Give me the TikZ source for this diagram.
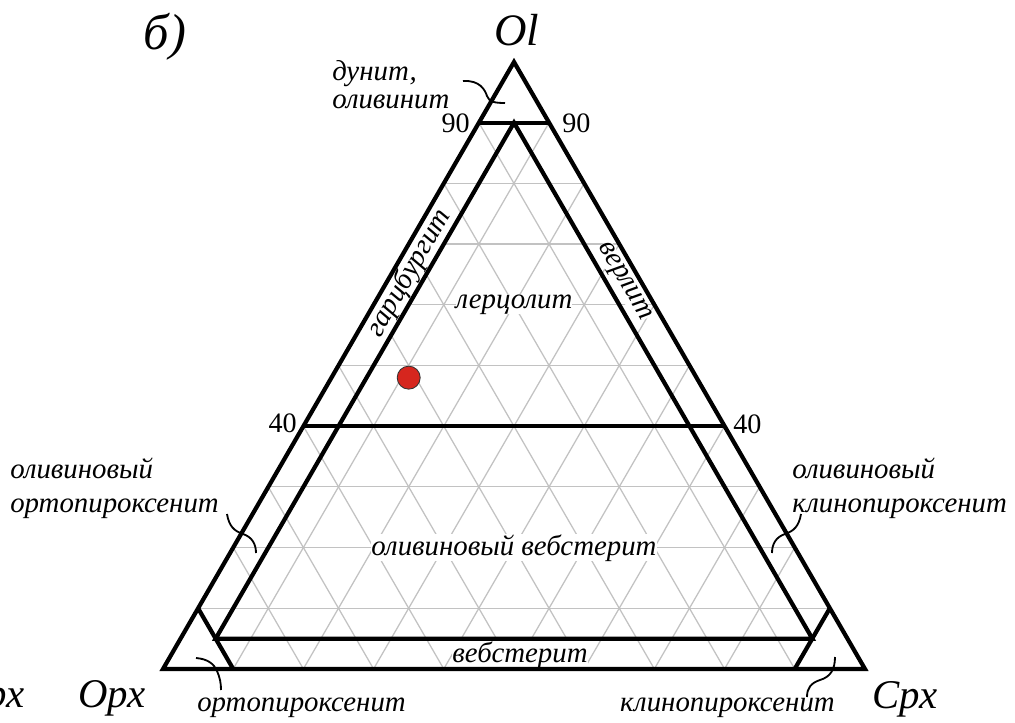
\documentclass[tikz,border=0pt]{standalone}
\usepackage{fontspec}
\setmainfont{Liberation Serif}
\definecolor{dotred}{RGB}{214,38,30}

\begin{document}
\begin{tikzpicture}[x=0.025cm,y=-0.025cm,
  border/.style={line width=3pt,line join=miter},
  tgrid/.style={gray!48,line width=0.9pt},
  lead/.style={line width=1.3pt},
  lbl/.style={font=\fontsize{20.5}{24}\selectfont\itshape,inner sep=0pt},
  num/.style={font=\fontsize{20}{24}\selectfont,inner sep=0pt},
  apex/.style={font=\fontsize{29}{32}\selectfont\itshape,inner sep=0pt},
  field/.style={lbl,fill=white}]
  \useasboundingbox (0,0) rectangle (1015,723);
  \coordinate (ol) at (514,62);
  \coordinate (opx) at (163,669);
  \coordinate (cpx) at (865,669);
  \foreach \i in {1,...,9}{
    \pgfmathtruncatemacro\j{10-\i}
    \draw[tgrid] (barycentric cs:ol=\i,opx=\j,cpx=0) -- (barycentric cs:ol=\i,opx=0,cpx=\j);
    \draw[tgrid] (barycentric cs:opx=\i,ol=\j,cpx=0) -- (barycentric cs:opx=\i,ol=0,cpx=\j);
    \draw[tgrid] (barycentric cs:cpx=\i,ol=\j,opx=0) -- (barycentric cs:cpx=\i,ol=0,opx=\j);
  }
  \node[field,rotate=60] (harz) at (barycentric cs:ol=0.652,opx=0.323,cpx=0.025) {гарцбургит};
  \node[field,rotate=-60] (wehr) at (barycentric cs:ol=0.638,opx=0.025,cpx=0.337) {верлит};
  \node[field,anchor=base] (lherz) at (514,308) {лерцолит};
  \node[field,anchor=base] (olweb) at (514,555) {оливиновый вебстерит};
  \node[field,anchor=base] (web) at (520,662) {вебстерит};
  \draw[border] (ol) -- (opx) -- (cpx) -- cycle;
  \draw[border] (barycentric cs:ol=9,opx=1,cpx=0) -- (barycentric cs:ol=9,opx=0,cpx=1);
  \draw[border] (barycentric cs:ol=4,opx=6,cpx=0) -- (barycentric cs:ol=4,opx=0,cpx=6);
  \draw[border] (barycentric cs:ol=0.05,opx=0.9,cpx=0.05) -- (barycentric cs:ol=0.9,opx=0.05,cpx=0.05)
    -- (barycentric cs:ol=0.05,opx=0.05,cpx=0.9) -- cycle;
  \draw[border] (barycentric cs:ol=1,opx=9,cpx=0) -- (barycentric cs:ol=0,opx=9,cpx=1);
  \draw[border] (barycentric cs:ol=1,opx=0,cpx=9) -- (barycentric cs:ol=0,opx=1,cpx=9);
  \node[apex,font=\fontsize{36}{40}\selectfont\itshape] (panel) at (165,37) {б)};
  \node[apex,anchor=base,font=\fontsize{32}{36}\selectfont\itshape] (tOl) at (517,45) {Ol};
  \node[apex,anchor=base] (tOpx) at (112,707) {Opx};
  \node[apex,anchor=base east] (tOpxCut) at (25,707) {Opx};
  \node[apex,anchor=base] (tCpx) at (905,708) {Cpx};
  \node[num,anchor=base east] (n90l) at (470,132) {90};
  \node[num,anchor=base west] (n90r) at (562,132) {90};
  \node[num,anchor=base east] (n40l) at (297,432) {40};
  \node[num,anchor=base west] (n40r) at (733,433) {40};
  \node[lbl,anchor=base west] (dun) at (332,80) {дунит,};
  \node[lbl,anchor=base west] (olv) at (332,108) {оливинит};
  \node[lbl,anchor=base west] (oopxA) at (10,478) {оливиновый};
  \node[lbl,anchor=base west] (oopxB) at (10,512) {ортопироксенит};
  \node[lbl,anchor=base west] (ocpxA) at (792,478) {оливиновый};
  \node[lbl,anchor=base west] (ocpxB) at (792,512) {клинопироксенит};
  \node[lbl,anchor=base west] (orth) at (197,711) {ортопироксенит};
  \node[lbl,anchor=base east] (clin) at (835,711) {клинопироксенит};
  % leaders
  \coordinate (dunA) at (463,81);   \coordinate (dunB) at (505,103);
  \coordinate (oopA) at (227,514);  \coordinate (oopB) at (256,553);
  \coordinate (ocpA) at (801,514);  \coordinate (ocpB) at (772,553);
  \coordinate (orA) at (196,658);   \coordinate (orB) at (221,690);
  \coordinate (clA) at (835,657);   \coordinate (clB) at (807,697);
  \draw[lead] (dunA) .. controls +(17,-1) and +(-2,-6) .. (487,96) .. controls +(2,6) and +(-10,0) .. (dunB);
  \draw[lead] (oopA) .. controls +(2,12) and +(-9,-3) .. (243,534) .. controls +(9,3) and +(0,-9) .. (oopB);
  \draw[lead] (ocpA) .. controls +(-2,12) and +(9,-3) .. (785,534) .. controls +(-9,3) and +(0,-9) .. (ocpB);
  \draw[lead] (orA) .. controls +(12,1) and +(-3,-7) .. (217,671) .. controls +(3,7) and +(0,-7) .. (orB);
  \draw[lead] (clA) .. controls +(0,13) and +(10,-3) .. (820,680) .. controls +(-9,3) and +(0,-9) .. (clB);
  \node[circle,draw=black!80,fill=dotred,line width=0.6pt,minimum size=0.575cm,inner sep=0pt] (sample)
    at (barycentric cs:ol=0.48,opx=0.41,cpx=0.11) {};
\end{tikzpicture}
\end{document}
